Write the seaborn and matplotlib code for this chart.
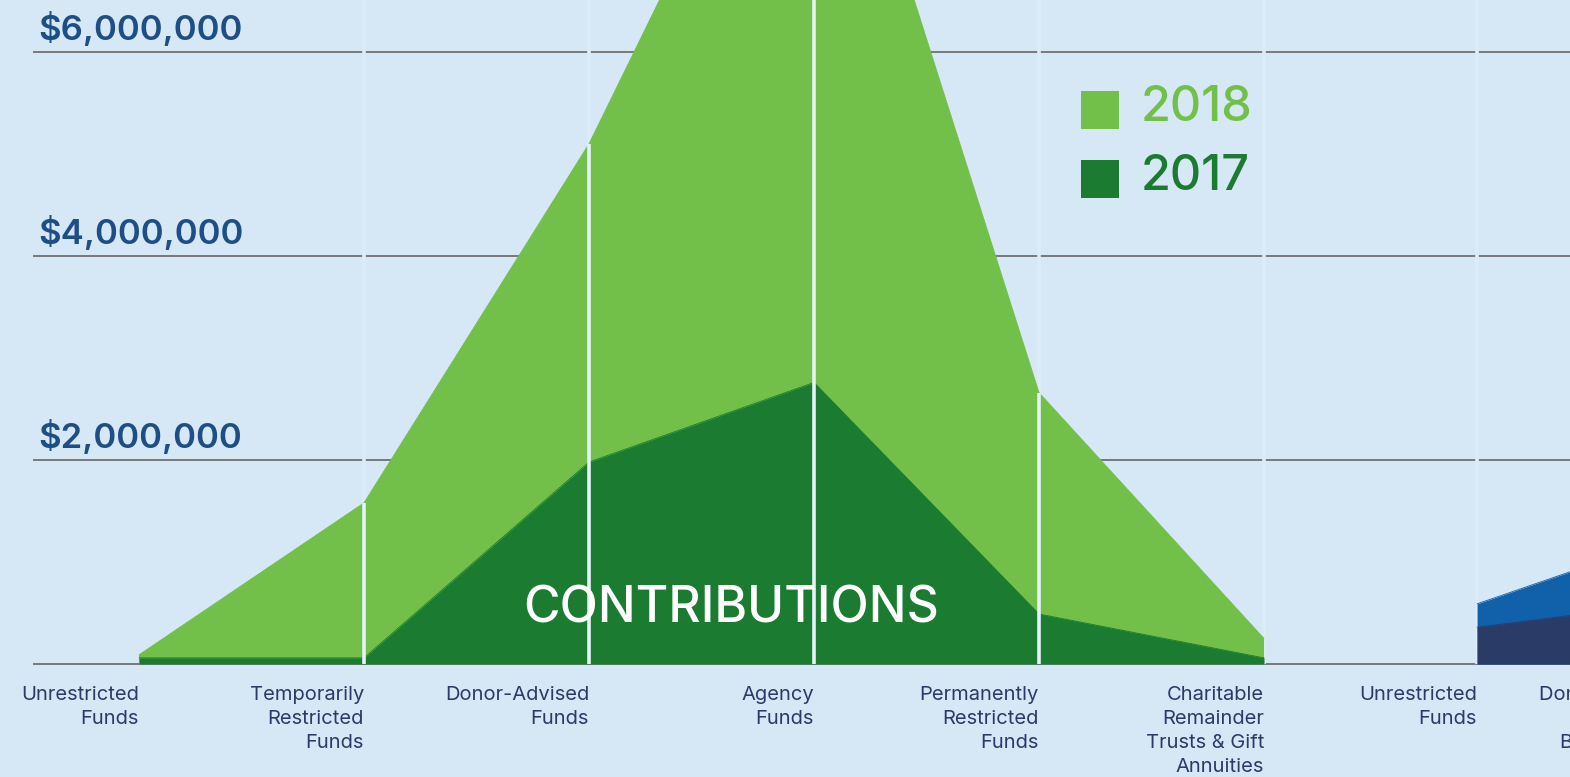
import matplotlib
matplotlib.use("Agg")
import matplotlib.pyplot as plt
from matplotlib.patches import Rectangle
import seaborn as sns
import pandas as pd

# Contributions panel
categories = ["Unrestricted\nFunds", "Temporarily\nRestricted\nFunds", "Donor-Advised\nFunds",
              "Agency\nFunds", "Permanently\nRestricted\nFunds",
              "Charitable\nRemainder\nTrusts & Gift\nAnnuities"]
contrib_2018 = [0.09e6, 1.58e6, 5.10e6, 9.60e6, 2.66e6, 0.25e6]
contrib_2017 = [0.06e6, 0.06e6, 1.98e6, 2.76e6, 0.49e6, 0.06e6]

# next panel (only its start is visible)
next_categories = ["Unrestricted\nFunds", "Donor-Advised &\nDesignated\nBequest Funds"]
next_2018 = [0.59e6, 1.35e6]
next_2017 = [0.36e6, 0.64e6]

y_ticks = [2e6, 4e6, 6e6]
y_labels = ["$2,000,000", "$4,000,000", "$6,000,000"]
years = ["2018", "2017"]

BG = "#d6e8f6"
LIGHT_GREEN = "#72bf4a"
DARK_GREEN = "#1b7b31"
BLUE = "#1160aa"
NAVY = "#2b3b68"

sns.set_theme(style="white")
plt.rcParams["font.family"] = ["Inter", "DejaVu Sans"]

fig = plt.figure(figsize=(15.7, 7.77), dpi=100, facecolor=BG)
ax = fig.add_axes([0, 0, 1, 1])
ax.set_facecolor(BG)
ax.set_xlim(-0.618, 6.36)
ax.set_ylim(-1.108e6, 6.51e6)
ax.axis("off")

pos = list(range(len(categories)))
next_pos = [5.947, 6.947]

df = pd.DataFrame({
    "x": pos * 2 + next_pos * 2,
    "value": contrib_2018 + contrib_2017 + next_2018 + next_2017,
    "series": ["c2018"] * 6 + ["c2017"] * 6 + ["n2018"] * 2 + ["n2017"] * 2,
})
palette = {"c2018": LIGHT_GREEN, "c2017": DARK_GREEN, "n2018": BLUE, "n2017": NAVY}

# gridlines
for v in [0] + y_ticks:
    ax.hlines(v, -0.471, 6.36, color="#6f7072", lw=1.3, zorder=1)

sns.lineplot(data=df, x="x", y="value", hue="series", palette=palette,
             legend=False, lw=0.6, ax=ax, zorder=3)
for name, sub in df.groupby("series", sort=False):
    ax.fill_between(sub["x"], 0, sub["value"], color=palette[name], lw=0,
                    zorder=2 + (1 if "2017" in name else 0))

# separators: faint above the areas, white inside them
ax.vlines([1, 2, 3, 4, 5, 5.947], 0, 6.51e6, color="#dcebf7", lw=2.6, zorder=1.5)
ax.vlines(pos[1:5], 0, contrib_2018[1:5], color="#e6f1fa", lw=2.6, zorder=5)

# y labels
for v, lab in zip(y_ticks, y_labels):
    ax.text(-0.449, v + 0.118e6, lab, ha="left", va="baseline", fontsize=25,
            color="#1d4f86", fontweight="semibold")

# x labels
for x, lab in zip(pos + next_pos, categories + next_categories):
    ax.text(x, -0.215e6, lab, ha="right", va="top", fontsize=14.5,
            color=NAVY, linespacing=1.42, multialignment="right")

ax.text(2.63, 0.41e6, "CONTRIBUTIONS", ha="center", va="baseline",
        fontsize=36, color="white", fontweight="medium", zorder=6)

# legend
for (yy, col, lab) in [(129, LIGHT_GREEN, years[0]), (198, DARK_GREEN, years[1])]:
    fig.patches.append(Rectangle((1081 / 1570, 1 - yy / 777), 38 / 1570, 38 / 777,
                                 transform=fig.transFigure, color=col, lw=0))
    fig.text(1141 / 1570, 1 - (yy - 21) / 777, lab, ha="left", va="center",
             fontsize=35, color=col, fontweight="medium")

fig.savefig("out.png", dpi=100, facecolor=BG)
